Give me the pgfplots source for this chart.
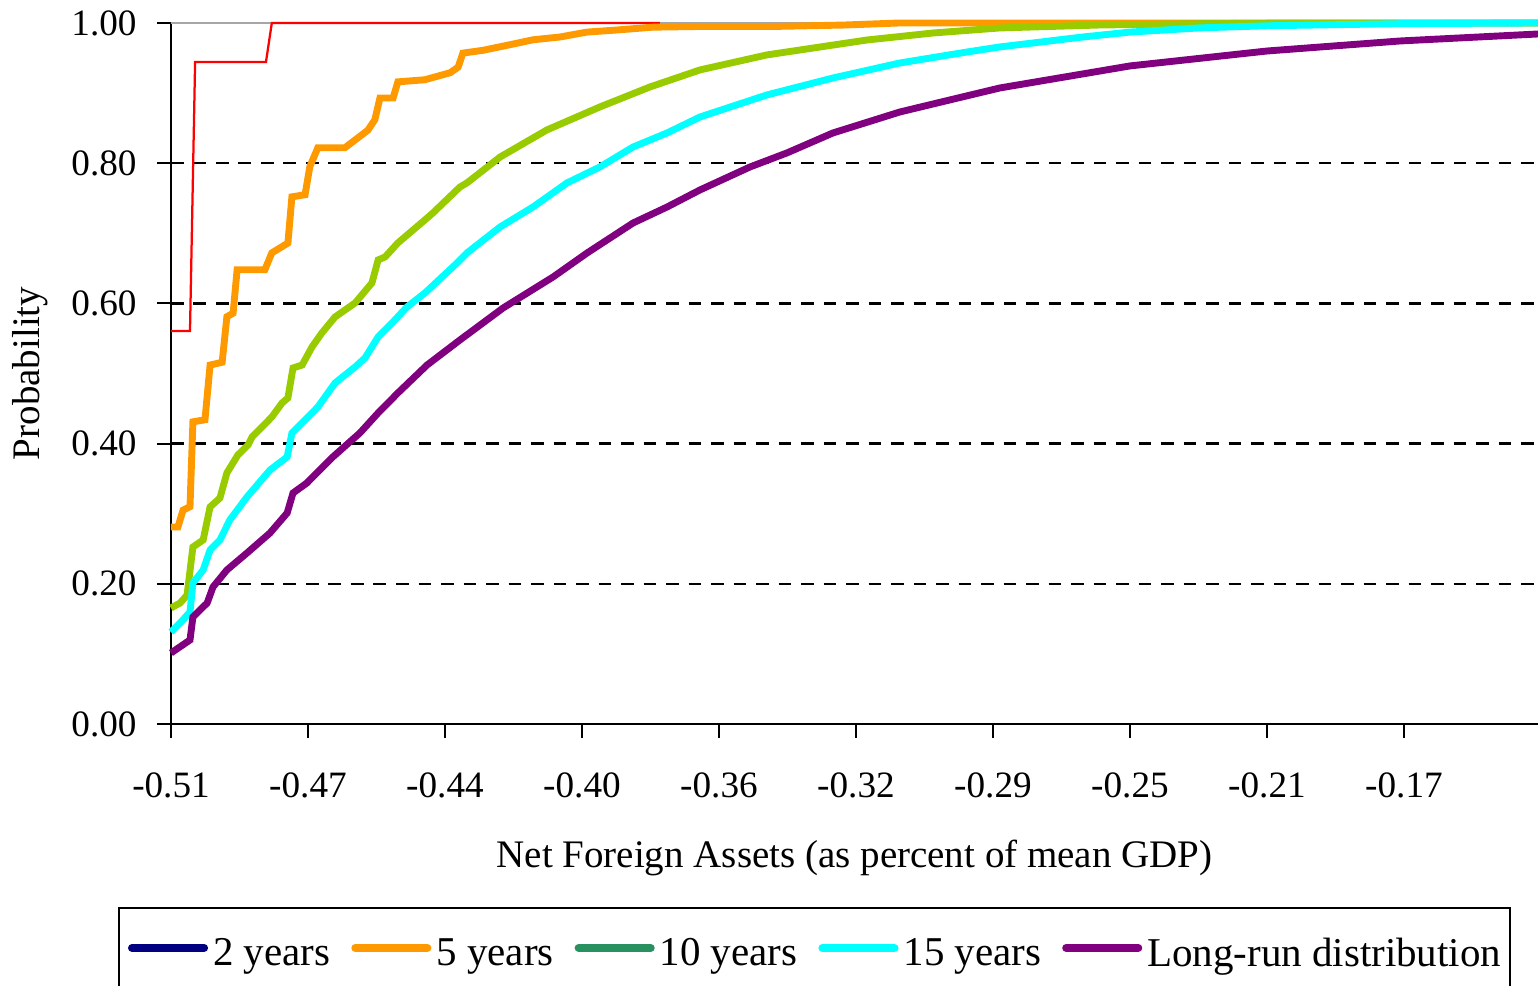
\documentclass[border=0pt]{standalone}
\usepackage{fontspec}
\setmainfont{Liberation Serif}
\usepackage{pgfplots}
\pgfplotsset{compat=1.18}

\definecolor{ctwo}{RGB}{255,0,0}
\definecolor{cfive}{RGB}{255,153,0}
\definecolor{cten}{RGB}{153,204,0}
\definecolor{cfifteen}{RGB}{0,255,255}
\definecolor{clong}{RGB}{128,0,128}
\definecolor{lnavy}{RGB}{0,0,128}
\definecolor{lgreen}{RGB}{40,145,95}

\begin{document}
\begin{tikzpicture}
\begin{axis}[
  scale only axis,
  width=455.67pt, height=233.67pt,
  xmin=-0.51, xmax=-0.1358,
  ymin=0, ymax=1,
  clip=false,
  axis lines*=left,
  axis line style={black, line width=0.7pt},
  tick style={black, line width=0.7pt},
  tick align=outside,
  major tick length=4.67pt,
  xtick={-0.51,-0.4725,-0.435,-0.3975,-0.36,-0.3225,-0.285,-0.2475,-0.21,-0.1725},
  xticklabels={-0.51,-0.47,-0.44,-0.40,-0.36,-0.32,-0.29,-0.25,-0.21,-0.17},
  ytick={0,0.2,0.4,0.6,0.8,1},
  yticklabels={0.00,0.20,0.40,0.60,0.80,1.00},
  ticklabel style={font=\fontsize{12.4}{14}\selectfont},
  xticklabel style={anchor=north, inner sep=0pt, yshift=-11.3pt},
  yticklabel style={anchor=east, inner sep=0pt, xshift=-6.6pt},
  ymajorgrids,
  major grid style={black, line width=0.8pt, dash pattern=on 4.3pt off 3.2pt},
  xlabel={Net Foreign Assets (as percent of mean GDP)},
  ylabel={Probability},
  label style={font=\fontsize{13}{15}\selectfont},
  xlabel style={at={(axis description cs:0.5,-0.1912)}, anchor=center},
  ylabel style={at={(axis description cs:-0.1031,0.5)}, anchor=center},
  legend columns=5,
  legend cell align=left,
  legend image code/.code={\draw[#1] (0pt,2.2pt) -- (24pt,2.2pt);},
  legend style={
    at={(axis description cs:-0.0388,-0.2611)}, anchor=north west,
    draw=black, line width=0.7pt,
    font=\fontsize{13.65}{16}\selectfont,
    inner xsep=3pt, inner ysep=10pt,
    nodes={inner sep=0pt},
    /tikz/every odd column/.append style={column sep=1.7pt},
    /tikz/every even column/.append style={column sep=7.0pt},
  },
]
% top boundary at probability one
\draw[gray!70, line width=0.8pt] (axis cs:-0.51,1) -- (axis cs:-0.1358,1);

% 2 years
\addplot[ctwo, line width=0.75pt, forget plot] coordinates {
(-0.5100,0.5606) (-0.5048,0.5606) (-0.5034,0.9444) (-0.4840,0.9444)
(-0.4824,1.0000) (-0.3762,1.0000)
};

% 5 years
\addplot[cfive, line width=2.3pt, forget plot] coordinates {
(-0.5100,0.281) (-0.5081,0.281) (-0.5067,0.305) (-0.5048,0.310)
(-0.5040,0.431) (-0.5007,0.434) (-0.4993,0.512) (-0.4960,0.516)
(-0.4947,0.581) (-0.4930,0.586) (-0.4919,0.648) (-0.4843,0.648)
(-0.4824,0.672) (-0.4780,0.686) (-0.4769,0.752) (-0.4733,0.755)
(-0.4720,0.795) (-0.4698,0.822) (-0.4624,0.822) (-0.4561,0.847)
(-0.4542,0.862) (-0.4528,0.893) (-0.4492,0.893) (-0.4479,0.916)
(-0.4405,0.919) (-0.4336,0.929) (-0.4314,0.937) (-0.4301,0.957)
(-0.4246,0.961) (-0.4172,0.969) (-0.4109,0.976) (-0.4035,0.980)
(-0.3961,0.987) (-0.3879,0.990) (-0.3781,0.994) (-0.3652,0.995)
(-0.3452,0.995) (-0.3261,0.997) (-0.3105,1.000) (-0.1358,1.000)
};

% 10 years
\addplot[cten, line width=2.3pt, forget plot] coordinates {
(-0.5100,0.1655) (-0.5075,0.1726) (-0.5056,0.1840) (-0.5040,0.2525)
(-0.5012,0.2625) (-0.4993,0.3096) (-0.4966,0.3224) (-0.4947,0.3581)
(-0.4917,0.3837) (-0.4889,0.3980) (-0.4878,0.4094) (-0.4824,0.4379)
(-0.4796,0.4579) (-0.4780,0.4650) (-0.4766,0.5078) (-0.4741,0.5121)
(-0.4714,0.5378) (-0.4687,0.5578) (-0.4651,0.5806) (-0.4596,0.6006)
(-0.4550,0.6291) (-0.4533,0.6620) (-0.4514,0.6662) (-0.4479,0.6862)
(-0.4405,0.7190) (-0.4383,0.7290) (-0.4309,0.7660) (-0.4290,0.7718)
(-0.4199,0.8088) (-0.4071,0.8474) (-0.3926,0.8802) (-0.3789,0.9087)
(-0.3652,0.9330) (-0.3469,0.9544) (-0.3195,0.9757) (-0.3014,0.9857)
(-0.2831,0.9929) (-0.2557,0.9971) (-0.2283,0.9990) (-0.2010,1.0000)
(-0.1358,1.0000)
};

% 15 years
\addplot[cfifteen, line width=2.3pt, forget plot] coordinates {
(-0.5100,0.1312) (-0.5075,0.1441) (-0.5048,0.1598) (-0.5040,0.2011)
(-0.5012,0.2197) (-0.4993,0.2482) (-0.4966,0.2625) (-0.4939,0.2910)
(-0.4892,0.3238) (-0.4829,0.3623) (-0.4782,0.3809) (-0.4769,0.4151)
(-0.4733,0.4337) (-0.4698,0.4522) (-0.4651,0.4864) (-0.4596,0.5093)
(-0.4569,0.5221) (-0.4533,0.5521) (-0.4495,0.5720) (-0.4454,0.5949)
(-0.4405,0.6148) (-0.4317,0.6576) (-0.4290,0.6719) (-0.4199,0.7090)
(-0.4109,0.7375) (-0.4016,0.7718) (-0.3926,0.7946) (-0.3835,0.8231)
(-0.3742,0.8431) (-0.3652,0.8659) (-0.3469,0.8973) (-0.3288,0.9215)
(-0.3105,0.9429) (-0.2921,0.9586) (-0.2831,0.9658) (-0.2604,0.9800)
(-0.2475,0.9870) (-0.2283,0.9930) (-0.2100,0.9960) (-0.1736,0.9990)
(-0.1358,1.0000)
};

% long-run distribution
\addplot[clong, line width=2.3pt, forget plot] coordinates {
(-0.5100,0.1013) (-0.5048,0.1198) (-0.5040,0.1526) (-0.5001,0.1726)
(-0.4985,0.1954) (-0.4947,0.2197) (-0.4892,0.2439) (-0.4829,0.2725)
(-0.4782,0.3010) (-0.4766,0.3295) (-0.4728,0.3438) (-0.4657,0.3809)
(-0.4583,0.4151) (-0.4533,0.4437) (-0.4479,0.4722) (-0.4399,0.5121)
(-0.4309,0.5478) (-0.4191,0.5934) (-0.4054,0.6377) (-0.3961,0.6719)
(-0.3835,0.7147) (-0.3742,0.7375) (-0.3652,0.7618) (-0.3515,0.7946)
(-0.3414,0.8146) (-0.3288,0.8431) (-0.3105,0.8730) (-0.2968,0.8902)
(-0.2831,0.9073) (-0.2475,0.9387) (-0.2100,0.9600) (-0.1736,0.9743)
(-0.1358,0.9843)
};

\addlegendimage{lnavy, line width=2.7pt, line cap=round}
\addlegendentry{2 years}
\addlegendimage{cfive, line width=2.7pt, line cap=round}
\addlegendentry{5 years}
\addlegendimage{lgreen, line width=2.7pt, line cap=round}
\addlegendentry{10 years}
\addlegendimage{cfifteen, line width=2.7pt, line cap=round}
\addlegendentry{15 years}
\addlegendimage{clong, line width=2.7pt, line cap=round}
\addlegendentry{Long-run distribution}
\end{axis}
\pgfresetboundingbox
\path[use as bounding box] (-57pt,-87.33pt) rectangle (455.67pt,241.33pt);
\end{tikzpicture}
\end{document}
